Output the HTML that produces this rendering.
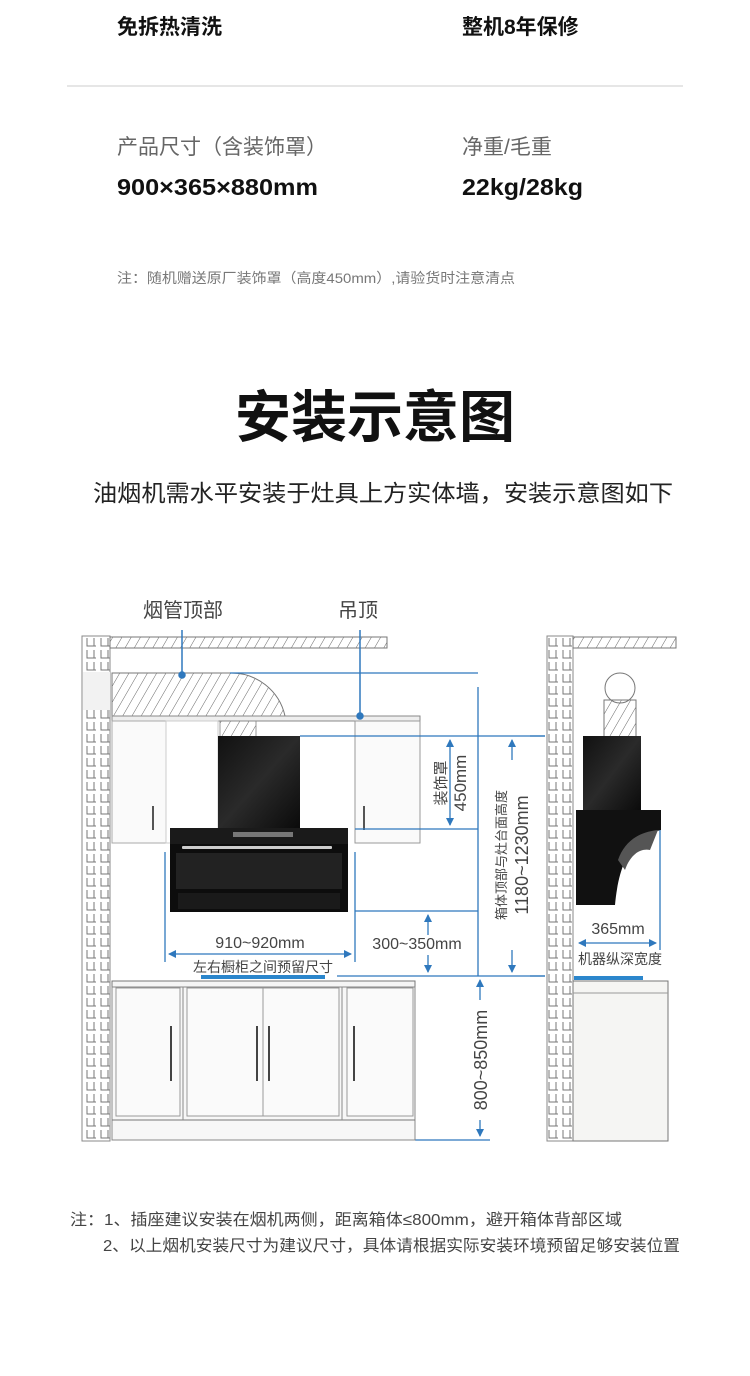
<!DOCTYPE html>
<html><head><meta charset="utf-8"><style>
body{margin:0;width:750px;height:1371px;background:#fff;overflow:hidden;font-family:"Liberation Sans","Noto Sans CJK SC",sans-serif;}
</style></head><body>
<svg width="750" height="1371" viewBox="0 0 750 1371" xmlns="http://www.w3.org/2000/svg" font-family="Liberation Sans, Noto Sans CJK SC, sans-serif">
<defs>
<pattern id="brick" width="14" height="12" patternUnits="userSpaceOnUse">
<path d="M3 2 V10 H12 M10 2 V10" stroke="#777" stroke-width="1" fill="none"/>
</pattern>
<pattern id="hatch" width="8" height="8" patternUnits="userSpaceOnUse" patternTransform="rotate(30)">
<line x1="0" y1="0" x2="0" y2="8" stroke="#666" stroke-width="1"/>
</pattern>
<marker id="ar" markerWidth="8" markerHeight="8" refX="7" refY="4" orient="auto-start-reverse" markerUnits="userSpaceOnUse"><path d="M0 0 L8 4 L0 8z" fill="#2f78bd"/></marker>
<linearGradient id="blk" x1="0" y1="0" x2="1" y2="1"><stop offset="0" stop-color="#111"/><stop offset="0.5" stop-color="#2a2a2a"/><stop offset="1" stop-color="#0a0a0a"/></linearGradient>
</defs>
<g font-weight="bold" font-size="21" fill="#111">
<text x="117" y="34">免拆热清洗</text>
<text x="462" y="34">整机8年保修</text>
</g>
<line x1="67" y1="86" x2="683" y2="86" stroke="#ddd" stroke-width="1.5"/>
<g font-size="21" fill="#666">
<text x="117" y="154">产品尺寸（含装饰罩）</text>
<text x="462" y="154">净重/毛重</text>
</g>
<g font-size="23" font-weight="bold" fill="#111">
<text x="117" y="195" textLength="201" lengthAdjust="spacingAndGlyphs">900×365×880mm</text>
<text x="462" y="195" textLength="121" lengthAdjust="spacingAndGlyphs">22kg/28kg</text>
</g>
<text x="117" y="283" font-size="14" fill="#777" textLength="398" lengthAdjust="spacingAndGlyphs">注：随机赠送原厂装饰罩（高度450mm）,请验货时注意清点</text>
<text x="375" y="437" font-size="56" font-weight="bold" fill="#111" text-anchor="middle">安装示意图</text>
<text x="93" y="501" font-size="23" fill="#222" textLength="580" lengthAdjust="spacingAndGlyphs">油烟机需水平安装于灶具上方实体墙，安装示意图如下</text>

<text x="183" y="617" font-size="20" fill="#444" text-anchor="middle">烟管顶部</text>
<text x="358" y="617" font-size="20" fill="#444" text-anchor="middle">吊顶</text>

<rect x="82" y="636" width="28" height="505" fill="url(#brick)" stroke="#888"/>
<rect x="83" y="672" width="27" height="38" fill="#f2f2f2"/>
<rect x="110" y="637" width="277" height="11" fill="url(#hatch)" stroke="#777"/>
<path d="M112 673 H230 A55 55 0 0 1 285 716 H255 V718 H112 Z" fill="url(#hatch)" stroke="#777"/>
<rect x="220" y="716" width="36" height="22" fill="url(#hatch)" stroke="#999"/>
<rect x="112" y="716" width="308" height="5" fill="#eee" stroke="#888"/>
<rect x="112" y="721" width="54" height="122" fill="#fafafa" stroke="#aaa"/>
<rect x="166" y="721" width="52" height="122" fill="#fff" stroke="#ccc"/>
<rect x="355" y="721" width="65" height="122" fill="#fafafa" stroke="#999"/>
<line x1="153" y1="806" x2="153" y2="830" stroke="#555" stroke-width="2"/>
<line x1="364" y1="806" x2="364" y2="830" stroke="#555" stroke-width="2"/>
<rect x="218" y="736" width="82" height="93" fill="url(#blk)"/>
<rect x="170" y="828" width="178" height="84" fill="#0d0d0d"/>
<rect x="170" y="828" width="178" height="16" fill="#1a1a1a"/>
<rect x="233" y="832" width="60" height="5" fill="#777"/>
<rect x="182" y="846" width="150" height="3" fill="#ccc" rx="1"/>
<rect x="176" y="853" width="166" height="36" fill="#222"/>
<rect x="178" y="893" width="162" height="16" fill="#1a1a1a"/>

<g stroke="#2f78bd" stroke-width="1.5" fill="#2f78bd">
<line x1="182" y1="630" x2="182" y2="675"/><circle cx="182" cy="675" r="3"/>
<line x1="360" y1="630" x2="360" y2="716"/><circle cx="360" cy="716" r="3"/>
</g>
<g stroke="#2f78bd" stroke-width="1.3" fill="none">
<line x1="230" y1="673" x2="478" y2="673"/>
<line x1="300" y1="736" x2="545" y2="736"/>
<line x1="355" y1="829" x2="478" y2="829"/>
<line x1="355" y1="911" x2="478" y2="911"/>
<line x1="337" y1="976" x2="545" y2="976"/>
<line x1="415" y1="1140" x2="490" y2="1140"/>
<line x1="478" y1="687" x2="478" y2="976"/>
<line x1="165" y1="852" x2="165" y2="962"/>
<line x1="355" y1="852" x2="355" y2="962"/>
<line x1="169" y1="954" x2="351" y2="954" marker-start="url(#ar)" marker-end="url(#ar)"/>
<line x1="450" y1="740" x2="450" y2="825" marker-start="url(#ar)" marker-end="url(#ar)"/>
<line x1="428" y1="915" x2="428" y2="935" marker-start="url(#ar)"/>
<line x1="428" y1="955" x2="428" y2="972" marker-end="url(#ar)"/>
<line x1="512" y1="740" x2="512" y2="760" marker-start="url(#ar)"/>
<line x1="512" y1="950" x2="512" y2="972" marker-end="url(#ar)"/>
<line x1="480" y1="980" x2="480" y2="1000" marker-start="url(#ar)"/>
<line x1="480" y1="1120" x2="480" y2="1136" marker-end="url(#ar)"/>
</g>
<rect x="201" y="975" width="124" height="4" fill="#2b86cc"/>
<g font-size="16" fill="#444">
<text x="260" y="948" text-anchor="middle">910~920mm</text>
<text x="417" y="949" text-anchor="middle">300~350mm</text>
<text x="263" y="972" text-anchor="middle" font-size="14">左右橱柜之间预留尺寸</text>
<text transform="translate(466,783) rotate(-90)" text-anchor="middle" font-size="17">450mm</text>
<text transform="translate(446,783) rotate(-90)" text-anchor="middle" font-size="15">装饰罩</text>
<text transform="translate(528,855) rotate(-90)" text-anchor="middle" font-size="18">1180~1230mm</text>
<text transform="translate(506,855) rotate(-90)" text-anchor="middle" font-size="13">箱体顶部与灶台面高度</text>
<text transform="translate(487,1060) rotate(-90)" text-anchor="middle" font-size="18">800~850mm</text>
</g>
<rect x="112" y="981" width="303" height="6" fill="#f5f5f5" stroke="#777"/>
<rect x="112" y="987" width="303" height="153" fill="#f7f7f7" stroke="#888"/>
<line x1="112" y1="1120" x2="415" y2="1120" stroke="#777"/>
<line x1="183" y1="987" x2="183" y2="1120" stroke="#888"/>
<line x1="342" y1="987" x2="342" y2="1120" stroke="#888"/>
<g fill="#fafafa" stroke="#999">
<rect x="116" y="988" width="64" height="128"/>
<rect x="187" y="988" width="76" height="128"/>
<rect x="263" y="988" width="76" height="128"/>
<rect x="347" y="988" width="66" height="128"/>
</g>
<g stroke="#444" stroke-width="2">
<line x1="171" y1="1026" x2="171" y2="1081"/>
<line x1="257" y1="1026" x2="257" y2="1081"/>
<line x1="269" y1="1026" x2="269" y2="1081"/>
<line x1="354" y1="1026" x2="354" y2="1081"/>
</g>

<rect x="547" y="636" width="26" height="505" fill="url(#brick)" stroke="#888"/>
<rect x="573" y="637" width="103" height="11" fill="url(#hatch)" stroke="#777"/>
<circle cx="620" cy="688" r="15" fill="#fff" stroke="#777"/>
<rect x="604" y="700" width="32" height="38" fill="url(#hatch)" stroke="#777"/>
<rect x="583" y="736" width="58" height="76" fill="url(#blk)"/>
<path d="M576 810 H661 V830 C640 835 620 850 615 905 L576 905 Z" fill="#111"/>
<path d="M618 860 C625 840 640 832 658 830 L650 850 C640 848 630 855 625 870 Z" fill="#555"/>
<g stroke="#2f78bd" stroke-width="1.3" fill="none">
<line x1="660" y1="830" x2="660" y2="950"/>
<line x1="579" y1="943" x2="656" y2="943" marker-start="url(#ar)" marker-end="url(#ar)"/>
<line x1="530" y1="736" x2="545" y2="736"/>
<line x1="530" y1="976" x2="545" y2="976"/>
</g>
<text x="618" y="934" font-size="16" fill="#444" text-anchor="middle">365mm</text>
<text x="620" y="964" font-size="14" fill="#444" text-anchor="middle">机器纵深宽度</text>
<rect x="574" y="976" width="69" height="4" fill="#2b86cc"/>
<rect x="573" y="981" width="95" height="160" fill="#f5f5f3" stroke="#777"/>
<line x1="573" y1="993" x2="668" y2="993" stroke="#999"/>

<g font-size="16" fill="#444">
<text x="70" y="1225" textLength="552" lengthAdjust="spacingAndGlyphs">注：1、插座建议安装在烟机两侧，距离箱体≤800mm，避开箱体背部区域</text>
<text x="103" y="1251" textLength="577" lengthAdjust="spacingAndGlyphs">2、以上烟机安装尺寸为建议尺寸，具体请根据实际安装环境预留足够安装位置</text>
</g>
</svg>
</body></html>
